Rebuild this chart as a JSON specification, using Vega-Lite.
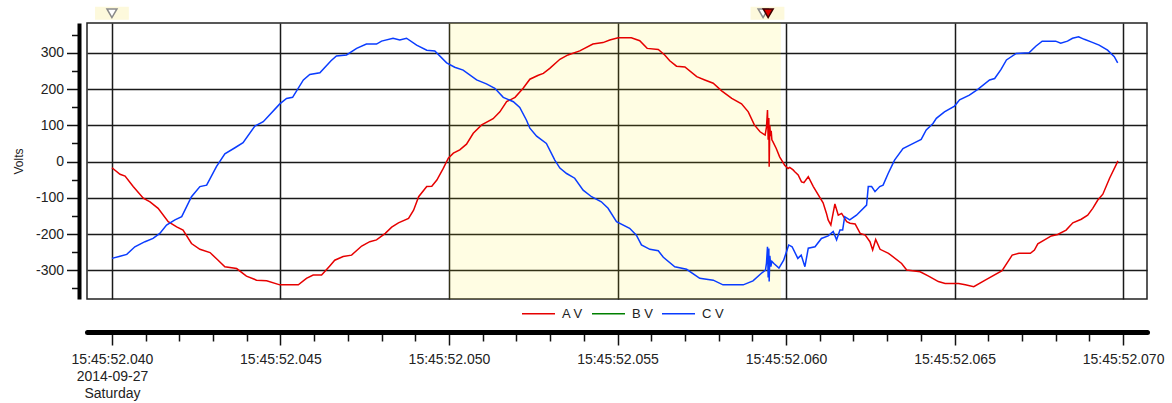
{
  "$schema": "https://vega.github.io/schema/vega-lite/v6.json",
  "width": 1060,
  "height": 276,
  "autosize": {"type": "none"},
  "padding": {"left": 87, "top": 23, "right": 25, "bottom": 104},
  "background": "white",
  "config": {
    "view": {"stroke": "#222", "strokeWidth": 1.5},
    "font": "Liberation Sans",
    "axis": {"labelFont": "Liberation Sans", "titleFont": "Liberation Sans", "labelColor": "#222", "tickColor": "#111", "domainColor": "#000"}
  },
  "datasets": {
    "volts": [
      {"t":40.0,"s":"A V","v":-17},{"t":40.24,"s":"A V","v":-35},{"t":40.39,"s":"A V","v":-40},{"t":40.63,"s":"A V","v":-69},{"t":40.93,"s":"A V","v":-101},{"t":41.13,"s":"A V","v":-111},{"t":41.37,"s":"A V","v":-129},{"t":41.67,"s":"A V","v":-166},{"t":41.92,"s":"A V","v":-180},{"t":42.11,"s":"A V","v":-189},{"t":42.36,"s":"A V","v":-226},{"t":42.61,"s":"A V","v":-242},{"t":42.91,"s":"A V","v":-251},{"t":43.15,"s":"A V","v":-272},{"t":43.35,"s":"A V","v":-290},{"t":43.70,"s":"A V","v":-295},{"t":43.99,"s":"A V","v":-316},{"t":44.29,"s":"A V","v":-327},{"t":44.59,"s":"A V","v":-329},{"t":44.98,"s":"A V","v":-340},{"t":45.53,"s":"A V","v":-340},{"t":45.77,"s":"A V","v":-322},{"t":45.97,"s":"A V","v":-313},{"t":46.22,"s":"A V","v":-313},{"t":46.47,"s":"A V","v":-287},{"t":46.61,"s":"A V","v":-272},{"t":46.86,"s":"A V","v":-262},{"t":47.11,"s":"A V","v":-258},{"t":47.41,"s":"A V","v":-233},{"t":47.65,"s":"A V","v":-221},{"t":47.85,"s":"A V","v":-216},{"t":48.11,"s":"A V","v":-198},{"t":48.30,"s":"A V","v":-181},{"t":48.50,"s":"A V","v":-169},{"t":48.80,"s":"A V","v":-157},{"t":48.95,"s":"A V","v":-134},{"t":49.10,"s":"A V","v":-97},{"t":49.34,"s":"A V","v":-69},{"t":49.49,"s":"A V","v":-68},{"t":49.64,"s":"A V","v":-51},{"t":49.83,"s":"A V","v":-19},{"t":49.98,"s":"A V","v":9},{"t":50.13,"s":"A V","v":23},{"t":50.32,"s":"A V","v":32},{"t":50.52,"s":"A V","v":48},{"t":50.72,"s":"A V","v":78},{"t":50.97,"s":"A V","v":101},{"t":51.31,"s":"A V","v":118},{"t":51.51,"s":"A V","v":137},{"t":51.71,"s":"A V","v":165},{"t":51.96,"s":"A V","v":177},{"t":52.20,"s":"A V","v":202},{"t":52.40,"s":"A V","v":227},{"t":52.65,"s":"A V","v":238},{"t":52.80,"s":"A V","v":243},{"t":52.99,"s":"A V","v":257},{"t":53.29,"s":"A V","v":282},{"t":53.53,"s":"A V","v":294},{"t":53.88,"s":"A V","v":305},{"t":54.27,"s":"A V","v":324},{"t":54.57,"s":"A V","v":328},{"t":54.77,"s":"A V","v":335},{"t":55.02,"s":"A V","v":341},{"t":55.41,"s":"A V","v":341},{"t":55.66,"s":"A V","v":333},{"t":55.88,"s":"A V","v":312},{"t":56.21,"s":"A V","v":309},{"t":56.40,"s":"A V","v":294},{"t":56.55,"s":"A V","v":278},{"t":56.75,"s":"A V","v":263},{"t":57.00,"s":"A V","v":261},{"t":57.35,"s":"A V","v":234},{"t":57.59,"s":"A V","v":225},{"t":57.84,"s":"A V","v":216},{"t":58.09,"s":"A V","v":195},{"t":58.39,"s":"A V","v":174},{"t":58.68,"s":"A V","v":159},{"t":58.88,"s":"A V","v":137},{"t":59.06,"s":"A V","v":101},{"t":59.23,"s":"A V","v":82},{"t":59.38,"s":"A V","v":73},{"t":59.42,"s":"A V","v":95},{"t":59.45,"s":"A V","v":142},{"t":59.47,"s":"A V","v":60},{"t":59.49,"s":"A V","v":120},{"t":59.50,"s":"A V","v":-14},{"t":59.52,"s":"A V","v":100},{"t":59.54,"s":"A V","v":70},{"t":59.56,"s":"A V","v":85},{"t":59.58,"s":"A V","v":60},{"t":59.61,"s":"A V","v":55},{"t":59.71,"s":"A V","v":36},{"t":59.81,"s":"A V","v":13},{"t":59.96,"s":"A V","v":-10},{"t":60.06,"s":"A V","v":-19},{"t":60.11,"s":"A V","v":-16},{"t":60.21,"s":"A V","v":-23},{"t":60.26,"s":"A V","v":-28},{"t":60.36,"s":"A V","v":-37},{"t":60.46,"s":"A V","v":-56},{"t":60.53,"s":"A V","v":-58},{"t":60.66,"s":"A V","v":-42},{"t":60.81,"s":"A V","v":-69},{"t":61.10,"s":"A V","v":-114},{"t":61.20,"s":"A V","v":-143},{"t":61.25,"s":"A V","v":-161},{"t":61.33,"s":"A V","v":-175},{"t":61.45,"s":"A V","v":-117},{"t":61.55,"s":"A V","v":-148},{"t":61.65,"s":"A V","v":-143},{"t":61.80,"s":"A V","v":-166},{"t":61.90,"s":"A V","v":-170},{"t":62.05,"s":"A V","v":-172},{"t":62.20,"s":"A V","v":-198},{"t":62.35,"s":"A V","v":-203},{"t":62.49,"s":"A V","v":-221},{"t":62.57,"s":"A V","v":-244},{"t":62.66,"s":"A V","v":-215},{"t":62.79,"s":"A V","v":-242},{"t":63.04,"s":"A V","v":-253},{"t":63.43,"s":"A V","v":-281},{"t":63.58,"s":"A V","v":-299},{"t":63.98,"s":"A V","v":-304},{"t":64.23,"s":"A V","v":-316},{"t":64.52,"s":"A V","v":-331},{"t":64.72,"s":"A V","v":-336},{"t":65.12,"s":"A V","v":-336},{"t":65.32,"s":"A V","v":-340},{"t":65.57,"s":"A V","v":-345},{"t":65.91,"s":"A V","v":-327},{"t":66.41,"s":"A V","v":-301},{"t":66.71,"s":"A V","v":-258},{"t":66.91,"s":"A V","v":-253},{"t":67.25,"s":"A V","v":-253},{"t":67.37,"s":"A V","v":-244},{"t":67.47,"s":"A V","v":-227},{"t":67.67,"s":"A V","v":-216},{"t":67.87,"s":"A V","v":-205},{"t":68.06,"s":"A V","v":-201},{"t":68.31,"s":"A V","v":-189},{"t":68.51,"s":"A V","v":-169},{"t":68.76,"s":"A V","v":-159},{"t":68.95,"s":"A V","v":-148},{"t":69.10,"s":"A V","v":-129},{"t":69.25,"s":"A V","v":-106},{"t":69.40,"s":"A V","v":-90},{"t":69.60,"s":"A V","v":-46},{"t":69.85,"s":"A V","v":2},
      {"t":40.0,"s":"C V","v":-267},{"t":40.24,"s":"C V","v":-261},{"t":40.44,"s":"C V","v":-256},{"t":40.68,"s":"C V","v":-235},{"t":40.98,"s":"C V","v":-221},{"t":41.22,"s":"C V","v":-212},{"t":41.42,"s":"C V","v":-198},{"t":41.62,"s":"C V","v":-175},{"t":41.87,"s":"C V","v":-161},{"t":42.07,"s":"C V","v":-152},{"t":42.36,"s":"C V","v":-97},{"t":42.61,"s":"C V","v":-69},{"t":42.81,"s":"C V","v":-65},{"t":43.10,"s":"C V","v":-14},{"t":43.35,"s":"C V","v":21},{"t":43.65,"s":"C V","v":38},{"t":43.89,"s":"C V","v":52},{"t":44.24,"s":"C V","v":98},{"t":44.49,"s":"C V","v":110},{"t":44.98,"s":"C V","v":159},{"t":45.18,"s":"C V","v":174},{"t":45.36,"s":"C V","v":177},{"t":45.68,"s":"C V","v":225},{"t":45.87,"s":"C V","v":240},{"t":46.17,"s":"C V","v":245},{"t":46.50,"s":"C V","v":278},{"t":46.66,"s":"C V","v":291},{"t":46.96,"s":"C V","v":294},{"t":47.26,"s":"C V","v":312},{"t":47.55,"s":"C V","v":324},{"t":47.85,"s":"C V","v":324},{"t":48.00,"s":"C V","v":332},{"t":48.34,"s":"C V","v":340},{"t":48.54,"s":"C V","v":335},{"t":48.74,"s":"C V","v":340},{"t":49.04,"s":"C V","v":321},{"t":49.34,"s":"C V","v":307},{"t":49.58,"s":"C V","v":305},{"t":49.93,"s":"C V","v":272},{"t":50.17,"s":"C V","v":260},{"t":50.42,"s":"C V","v":252},{"t":50.82,"s":"C V","v":225},{"t":51.11,"s":"C V","v":214},{"t":51.36,"s":"C V","v":202},{"t":51.61,"s":"C V","v":177},{"t":51.91,"s":"C V","v":165},{"t":52.10,"s":"C V","v":149},{"t":52.30,"s":"C V","v":114},{"t":52.40,"s":"C V","v":92},{"t":52.60,"s":"C V","v":70},{"t":52.89,"s":"C V","v":50},{"t":53.14,"s":"C V","v":4},{"t":53.29,"s":"C V","v":-18},{"t":53.49,"s":"C V","v":-33},{"t":53.73,"s":"C V","v":-46},{"t":53.98,"s":"C V","v":-79},{"t":54.23,"s":"C V","v":-97},{"t":54.52,"s":"C V","v":-111},{"t":54.72,"s":"C V","v":-129},{"t":54.97,"s":"C V","v":-166},{"t":55.36,"s":"C V","v":-184},{"t":55.56,"s":"C V","v":-203},{"t":55.71,"s":"C V","v":-230},{"t":55.96,"s":"C V","v":-242},{"t":56.21,"s":"C V","v":-246},{"t":56.36,"s":"C V","v":-264},{"t":56.70,"s":"C V","v":-290},{"t":57.05,"s":"C V","v":-297},{"t":57.44,"s":"C V","v":-322},{"t":57.84,"s":"C V","v":-327},{"t":58.13,"s":"C V","v":-340},{"t":58.73,"s":"C V","v":-340},{"t":59.02,"s":"C V","v":-329},{"t":59.27,"s":"C V","v":-308},{"t":59.39,"s":"C V","v":-299},{"t":59.42,"s":"C V","v":-280},{"t":59.45,"s":"C V","v":-235},{"t":59.47,"s":"C V","v":-320},{"t":59.49,"s":"C V","v":-240},{"t":59.50,"s":"C V","v":-331},{"t":59.52,"s":"C V","v":-260},{"t":59.55,"s":"C V","v":-290},{"t":59.58,"s":"C V","v":-275},{"t":59.64,"s":"C V","v":-281},{"t":59.79,"s":"C V","v":-294},{"t":59.93,"s":"C V","v":-272},{"t":60.08,"s":"C V","v":-230},{"t":60.18,"s":"C V","v":-235},{"t":60.35,"s":"C V","v":-267},{"t":60.45,"s":"C V","v":-258},{"t":60.56,"s":"C V","v":-290},{"t":60.66,"s":"C V","v":-239},{"t":60.86,"s":"C V","v":-235},{"t":61.05,"s":"C V","v":-212},{"t":61.25,"s":"C V","v":-205},{"t":61.40,"s":"C V","v":-193},{"t":61.50,"s":"C V","v":-216},{"t":61.60,"s":"C V","v":-189},{"t":61.68,"s":"C V","v":-189},{"t":61.74,"s":"C V","v":-152},{"t":61.89,"s":"C V","v":-161},{"t":62.09,"s":"C V","v":-148},{"t":62.39,"s":"C V","v":-120},{"t":62.44,"s":"C V","v":-69},{"t":62.54,"s":"C V","v":-69},{"t":62.64,"s":"C V","v":-83},{"t":62.78,"s":"C V","v":-69},{"t":62.88,"s":"C V","v":-65},{"t":63.03,"s":"C V","v":-33},{"t":63.22,"s":"C V","v":4},{"t":63.47,"s":"C V","v":36},{"t":63.82,"s":"C V","v":52},{"t":64.01,"s":"C V","v":61},{"t":64.16,"s":"C V","v":87},{"t":64.36,"s":"C V","v":105},{"t":64.46,"s":"C V","v":119},{"t":64.70,"s":"C V","v":137},{"t":65.00,"s":"C V","v":153},{"t":65.15,"s":"C V","v":170},{"t":65.44,"s":"C V","v":183},{"t":65.69,"s":"C V","v":199},{"t":66.04,"s":"C V","v":225},{"t":66.19,"s":"C V","v":229},{"t":66.38,"s":"C V","v":254},{"t":66.54,"s":"C V","v":280},{"t":66.83,"s":"C V","v":298},{"t":67.21,"s":"C V","v":300},{"t":67.41,"s":"C V","v":318},{"t":67.60,"s":"C V","v":332},{"t":68.00,"s":"C V","v":332},{"t":68.15,"s":"C V","v":326},{"t":68.35,"s":"C V","v":332},{"t":68.50,"s":"C V","v":340},{"t":68.68,"s":"C V","v":344},{"t":68.85,"s":"C V","v":337},{"t":69.05,"s":"C V","v":330},{"t":69.29,"s":"C V","v":321},{"t":69.54,"s":"C V","v":307},{"t":69.74,"s":"C V","v":289},{"t":69.84,"s":"C V","v":272}
    ],
    "band": [{"start": 50.0, "end": 59.85}],
    "markerBg": [{"t": 40.0}, {"t": 59.45}],
    "markers": [{"t": 40.0, "kind": "open"}, {"t": 59.32, "kind": "open"}, {"t": 59.47, "kind": "active"}]
  },
  "layer": [
    {
      "data": {"name": "band"},
      "mark": {"type": "rect", "color": "#ffec00", "opacity": 0.11},
      "encoding": {
        "x": {"field": "start", "type": "quantitative", "scale": {"domain": [39.26, 70.71], "nice": false, "zero": false},
          "axis": {
            "orient": "bottom", "offset": 33, "title": null,
            "values": [40,41,42,43,44,45,46,47,48,49,50,51,52,53,54,55,56,57,58,59,60,61,62,63,64,65,66,67,68,69,70],
            "tickCount": 1000,
            "grid": true, "gridColor": "#1a1a1a", "gridWidth": 1.5,
            "gridOpacity": {"condition": {"test": "datum.value % 5 === 0", "value": 1}, "value": 0},
            "tickSize": {"condition": {"test": "datum.value % 5 === 0", "value": 13}, "value": 9},
            "tickWidth": 1.5,
            "domainWidth": 5, "domainCap": "round",
            "labelExpr": "datum.value % 5 !== 0 ? '' : (datum.value === 40 ? ['15:45:52.040', '2014-09-27', 'Saturday'] : '15:45:52.0' + format(datum.value, '02d'))",
            "labelFontSize": 14, "labelLineHeight": 17, "labelPadding": 7,
            "labelOverlap": false, "labelFlush": false, "labelBound": false
          }},
        "x2": {"field": "end"}
      }
    },
    {
      "data": {"name": "volts"},
      "mark": {"type": "line", "strokeWidth": 1.5, "interpolate": "linear"},
      "encoding": {
        "x": {"field": "t", "type": "quantitative"},
        "y": {"field": "v", "type": "quantitative", "scale": {"domain": [-379, 382], "nice": false, "zero": false},
          "axis": {
            "orient": "left", "offset": 8, "title": "Volts", "titleFontSize": 12, "titleFontWeight": "normal", "titleColor": "#222", "titlePadding": 10,
            "values": [-350,-300,-250,-200,-150,-100,-50,0,50,100,150,200,250,300,350],
            "tickCount": 1000,
            "grid": true, "gridColor": "#1a1a1a", "gridWidth": 1.5,
            "gridOpacity": {"condition": {"test": "datum.value % 100 === 0", "value": 1}, "value": 0},
            "tickSize": {"condition": {"test": "datum.value % 100 === 0", "value": 12.5}, "value": 7.5},
            "tickWidth": 1.5,
            "domainWidth": 4,
            "labelExpr": "datum.value % 100 === 0 ? '' + datum.value : ''",
            "labelFontSize": 14, "labelPadding": 3, "labelOverlap": false
          }},
        "color": {"field": "s", "type": "nominal",
          "scale": {"domain": ["A V", "B V", "C V"], "range": ["#e60000", "#008000", "#0a3cff"]},
          "legend": {"orient": "none", "legendX": 434, "legendY": 273, "direction": "horizontal", "title": null,
            "symbolType": "stroke", "symbolSize": 1089, "symbolStrokeWidth": 1.5, "labelFontSize": 13, "labelColor": "#222",
            "labelOffset": 6, "columnPadding": 6, "padding": 0, "labelFont": "Liberation Sans"}
        }
      }
    },
    {
      "data": {"name": "markerBg"},
      "mark": {"type": "point", "shape": "M-1.3,-0.5H1.3V0.5H-1.3Z", "filled": true, "color": "#fdf9dc", "size": 676, "opacity": 1, "clip": false},
      "encoding": {"x": {"field": "t", "type": "quantitative"}, "y": {"datum": 409}}
    },
    {
      "data": {"name": "markers"},
      "mark": {"type": "point", "shape": "triangle-down", "size": 100, "filled": true, "strokeWidth": 1.5, "opacity": 1, "clip": false},
      "encoding": {
        "x": {"field": "t", "type": "quantitative"},
        "y": {"datum": 409},
        "fill": {"condition": {"test": "datum.kind === 'active'", "value": "#e00000"}, "value": "white"},
        "stroke": {"condition": {"test": "datum.kind === 'active'", "value": "#400000"}, "value": "#8a8a8a"}
      }
    }
  ]
}
